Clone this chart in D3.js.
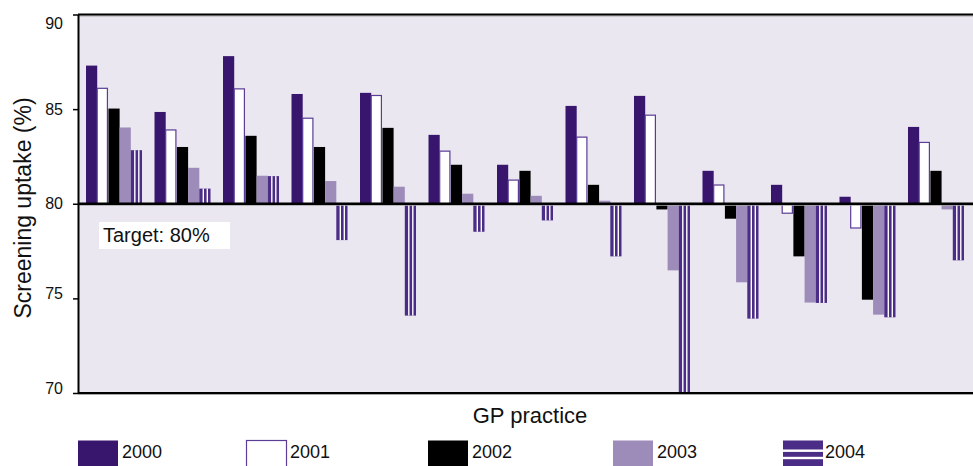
<!DOCTYPE html>
<html>
<head>
<meta charset="utf-8">
<script src="https://cdn.jsdelivr.net/npm/d3@7"></script>
<style>
body { margin: 0; background: #ffffff; }
text { font-family: "Liberation Sans", Arial, sans-serif; }
</style>
</head>
<body>
<script>

// data
var practices = ["1","2","3","4","5","6","7","8","9","10","11","12","13"];
var years = ["2000","2001","2002","2003","2004"];
var uptake2000 = [87.3, 84.85, 87.8, 85.8, 85.86, 83.64, 82.06, 85.17, 85.7, 81.74, 81.0, 80.37, 84.06];
var uptake2001 = [86.1, 83.9, 86.07, 84.52, 85.72, 82.78, 81.25, 83.52, 84.68, 80.99, 79.5, 78.72, 83.24];
var uptake2002 = [85.03, 83.0, 83.59, 83.0, 84.01, 82.06, 81.74, 81.0, 79.7, 79.21, 77.22, 74.93, 81.74];
var uptake2003 = [84.03, 81.9, 81.48, 81.2, 80.9, 80.53, 80.42, 80.16, 76.48, 75.85, 74.78, 74.14, 79.7];
var uptake2004 = [82.83, 80.8, 81.46, 78.08, 74.09, 78.52, 79.12, 77.22, 70.0, 73.93, 74.76, 74.0, 77.01];
var yTicks = [70, 75, 80, 85, 90];
var target = 80;

var w = 973;
var h = 466;
var plotLeft = 78, plotRight = 972, plotTop = 14.5, plotBottom = 393;

var purple = "#38166e";
var lilac = "#9d8bb9";
var stripe = "#4b2c86";
var fills = { "2000": purple, "2001": "#ffffff", "2002": "#000000", "2003": lilac, "2004": stripe };
var legendX = [78, 246, 428, 613, 783];

var series = [uptake2000, uptake2001, uptake2002, uptake2003, uptake2004];
var rows = [];
practices.forEach(function(p, i){
	years.forEach(function(yr, j){
		rows.push({ practice: p, year: yr, val: series[j][i] });
	});
});

var xScale = d3.scaleBand()
				.domain(practices)
				.range([plotLeft, plotRight])
				.paddingInner(0.1825)
				.paddingOuter(0.117);

var xInner = d3.scaleBand()
				.domain(years)
				.range([0, xScale.bandwidth()]);

var yScale = d3.scaleLinear()
				.domain([70, 90])
				.range([plotBottom, plotTop]);

var svg = d3.select("body")
			.append("svg")
			.attr("width", w)
			.attr("height", h);

// plot background
svg.append("rect")
	.attr("x", plotLeft)
	.attr("y", plotTop)
	.attr("width", w - plotLeft)
	.attr("height", plotBottom - plotTop)
	.attr("fill", "#eae7f0");

var bars = svg.selectAll(".bar")
			.data(rows)
			.enter()
			.append("g")
			.attr("transform", function(d){ return "translate(" + (xScale(d.practice) + xInner(d.year)) + ",0)"; });

bars.append("rect")
	.attr("x", 0)
	.attr("y", function(d){ return yScale(Math.max(d.val, target)); })
	.attr("width", function(d){ return d.year == "2001" ? xInner.bandwidth() - 1 : xInner.bandwidth(); })
	.attr("height", function(d){ return Math.abs(yScale(d.val) - yScale(target)); })
	.attr("fill", function(d){ return fills[d.year]; })
	.attr("stroke", function(d){ return d.year == "2001" ? "#5b3d96" : "none"; })
	.attr("stroke-width", 1.2);

// white stripes on the 2004 bars
[3.3, 7.3].forEach(function(off){
	bars.filter(function(d){ return d.year == "2004"; })
		.append("rect")
		.attr("x", off)
		.attr("y", function(d){ return yScale(Math.max(d.val, target)); })
		.attr("width", 1.4)
		.attr("height", function(d){ return Math.abs(yScale(d.val) - yScale(target)); })
		.attr("fill", "#ffffff");
});

// frame lines
function hline(yv, wd){
	svg.append("line")
		.attr("x1", plotLeft).attr("x2", w)
		.attr("y1", yv + 1.5).attr("y2", yv + 1.5)
		.attr("stroke", "#a8a8a8").attr("stroke-width", 1.2);
	svg.append("line")
		.attr("x1", plotLeft).attr("x2", w)
		.attr("y1", yv).attr("y2", yv)
		.attr("stroke", "#000").attr("stroke-width", wd);
}
hline(plotTop, 2);
hline(yScale(target), 2.5);
hline(plotBottom, 2);

var yAxis = d3.axisLeft(yScale)
			.tickValues(yTicks)
			.tickSize(5)
			.tickSizeOuter(0)
			.tickPadding(10);

var appendY = svg.append("g")
			.attr("transform", "translate(" + plotLeft + ",0)")
			.call(yAxis);

appendY.select(".domain")
	.attr("stroke", "#000")
	.attr("stroke-width", 2);
appendY.selectAll(".tick line")
	.attr("stroke", "#000")
	.attr("stroke-width", 1.5);
appendY.selectAll(".tick text")
	.attr("font-family", "Liberation Sans, Arial, sans-serif")
	.attr("font-size", "16px")
	.attr("fill", "#111")
	.attr("dy", function(d){ return d == 90 ? "0.85em" : (d == 70 || d == 75 ? "0em" : "0.32em"); });

// target label
svg.append("rect")
	.attr("x", 99).attr("y", 222)
	.attr("width", 131).attr("height", 27)
	.attr("fill", "#ffffff");
svg.append("text")
	.attr("x", 103).attr("y", 242)
	.attr("font-size", "20px")
	.attr("fill", "#111")
	.text("Target: " + target + "%");

// axis titles
svg.append("text")
	.attr("transform", "translate(31," + 208 + ") rotate(-90)")
	.attr("text-anchor", "middle")
	.attr("font-size", "23px")
	.attr("fill", "#111")
	.text("Screening uptake (%)");

svg.append("text")
	.attr("x", 530).attr("y", 423)
	.attr("text-anchor", "middle")
	.attr("font-size", "22px")
	.attr("fill", "#111")
	.text("GP practice");

// legend
var legend = svg.selectAll(".legend")
			.data(years)
			.enter()
			.append("g")
			.attr("transform", function(d, i){ return "translate(" + legendX[i] + ",440)"; });

legend.append("rect")
	.attr("x", function(d){ return d == "2001" ? 0.5 : 0; })
	.attr("y", 0.5)
	.attr("width", 40)
	.attr("height", 30)
	.attr("fill", function(d){ return fills[d]; })
	.attr("stroke", function(d){ return d == "2001" ? "#5b3d96" : "none"; })
	.attr("stroke-width", 1.2);

legend.filter(function(d){ return d == "2004"; })
	.selectAll(".gap")
	.data([9.5, 16.8])
	.enter()
	.append("rect")
	.attr("x", 0).attr("y", function(d){ return d; })
	.attr("width", 40).attr("height", 2.4)
	.attr("fill", "#ffffff");

legend.append("text")
	.attr("x", function(d){ return d == "2004" ? 42 : 44; })
	.attr("y", 18)
	.attr("font-size", "18px")
	.attr("fill", "#111")
	.text(function(d){ return d; });

</script>
</body>
</html>
